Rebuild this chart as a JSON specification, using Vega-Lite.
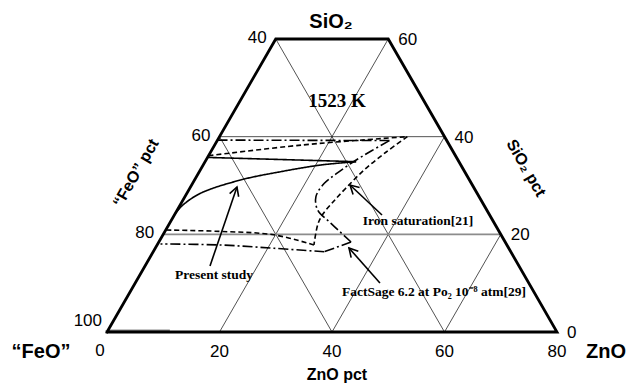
{
  "$schema": "https://vega.github.io/schema/vega-lite/v6.json",
  "autosize": {"type": "none"},
  "width": 450,
  "height": 293,
  "padding": {"left": 107, "top": 39, "right": 73, "bottom": 59},
  "background": "white",
  "config": {"view": {"stroke": null}},
  "data": {"values": [
    {"k": "frame", "g": "f", "i": 0, "ZnO": 0, "SiO2": 0},
    {"k": "frame", "g": "f", "i": 1, "ZnO": 80, "SiO2": 0},
    {"k": "frame", "g": "f", "i": 2, "ZnO": 20, "SiO2": 60},
    {"k": "frame", "g": "f", "i": 3, "ZnO": 0, "SiO2": 60},
    {"k": "frame", "g": "f", "i": 4, "ZnO": 0, "SiO2": 0},

    {"k": "grid", "g": "a", "i": 0, "ZnO": 0, "SiO2": 40},
    {"k": "grid", "g": "a", "i": 1, "ZnO": 40, "SiO2": 40},
    {"k": "grid", "g": "b", "i": 0, "ZnO": 20, "SiO2": 0},
    {"k": "grid", "g": "b", "i": 1, "ZnO": 20, "SiO2": 60},
    {"k": "grid", "g": "c", "i": 0, "ZnO": 40, "SiO2": 0},
    {"k": "grid", "g": "c", "i": 1, "ZnO": 40, "SiO2": 40},
    {"k": "grid", "g": "d", "i": 0, "ZnO": 60, "SiO2": 0},
    {"k": "grid", "g": "d", "i": 1, "ZnO": 60, "SiO2": 20},
    {"k": "grid", "g": "e", "i": 0, "ZnO": 0, "SiO2": 40},
    {"k": "grid", "g": "e", "i": 1, "ZnO": 40, "SiO2": 0},
    {"k": "grid", "g": "f", "i": 0, "ZnO": 0, "SiO2": 60},
    {"k": "grid", "g": "f", "i": 1, "ZnO": 60, "SiO2": 0},
    {"k": "grid2", "g": "h", "i": 0, "ZnO": 0, "SiO2": 20},
    {"k": "grid2", "g": "h", "i": 1, "ZnO": 60, "SiO2": 20},
    {"k": "grid2", "g": "z", "i": 0, "ZnO": 0, "SiO2": 0.35},
    {"k": "grid2", "g": "z", "i": 1, "ZnO": 11, "SiO2": 0.35},

    {"k": "curve", "s": "present", "g": "pA", "i": 0, "ZnO": 0, "SiO2": 24.2},
    {"k": "curve", "s": "present", "g": "pA", "i": 1, "ZnO": 0.44, "SiO2": 25.9},
    {"k": "curve", "s": "present", "g": "pA", "i": 2, "ZnO": 2.41, "SiO2": 28.4},
    {"k": "curve", "s": "present", "g": "pA", "i": 3, "ZnO": 8.19, "SiO2": 31.13},
    {"k": "curve", "s": "present", "g": "pA", "i": 4, "ZnO": 14.48, "SiO2": 32.83},
    {"k": "curve", "s": "present", "g": "pA", "i": 5, "ZnO": 20.94, "SiO2": 34.2},
    {"k": "curve", "s": "present", "g": "pA", "i": 6, "ZnO": 26.85, "SiO2": 34.88},
    {"k": "curve", "s": "present", "g": "pB", "i": 0, "ZnO": 26.85, "SiO2": 34.88},
    {"k": "curve", "s": "present", "g": "pB", "i": 1, "ZnO": 0, "SiO2": 35.75},

    {"k": "curve", "s": "iron", "g": "iA", "i": 0, "ZnO": 0, "SiO2": 36.1},
    {"k": "curve", "s": "iron", "g": "iA", "i": 1, "ZnO": 15.6, "SiO2": 38.3},
    {"k": "curve", "s": "iron", "g": "iA", "i": 2, "ZnO": 33.4, "SiO2": 40.0},
    {"k": "curve", "s": "iron", "g": "iB", "i": 0, "ZnO": 33.4, "SiO2": 40.0},
    {"k": "curve", "s": "iron", "g": "iB", "i": 1, "ZnO": 31.21, "SiO2": 36.86},
    {"k": "curve", "s": "iron", "g": "iB", "i": 2, "ZnO": 29.12, "SiO2": 33.18},
    {"k": "curve", "s": "iron", "g": "iB", "i": 3, "ZnO": 27.75, "SiO2": 29.49},
    {"k": "curve", "s": "iron", "g": "iB", "i": 4, "ZnO": 26.87, "SiO2": 26.62},
    {"k": "curve", "s": "iron", "g": "iB", "i": 5, "ZnO": 26.31, "SiO2": 24.16},
    {"k": "curve", "s": "iron", "g": "iB", "i": 6, "ZnO": 26.44, "SiO2": 22.12},
    {"k": "curve", "s": "iron", "g": "iB", "i": 7, "ZnO": 27.88, "SiO2": 17.82},
    {"k": "curve", "s": "iron", "g": "iC", "i": 0, "ZnO": 27.88, "SiO2": 17.82},
    {"k": "curve", "s": "iron", "g": "iC", "i": 1, "ZnO": 19.7, "SiO2": 19.9},
    {"k": "curve", "s": "iron", "g": "iC", "i": 2, "ZnO": 9.8, "SiO2": 20.6},
    {"k": "curve", "s": "iron", "g": "iC", "i": 3, "ZnO": 0, "SiO2": 20.89},

    {"k": "curve", "s": "fs", "g": "fA", "i": 0, "ZnO": 0, "SiO2": 39.3},
    {"k": "curve", "s": "fs", "g": "fA", "i": 1, "ZnO": 30.6, "SiO2": 39.2},
    {"k": "curve", "s": "fs", "g": "fB", "i": 0, "ZnO": 30.6, "SiO2": 39.2},
    {"k": "curve", "s": "fs", "g": "fB", "i": 1, "ZnO": 28.43, "SiO2": 37.07},
    {"k": "curve", "s": "fs", "g": "fB", "i": 2, "ZnO": 26.12, "SiO2": 34.55},
    {"k": "curve", "s": "fs", "g": "fB", "i": 3, "ZnO": 24.53, "SiO2": 32.36},
    {"k": "curve", "s": "fs", "g": "fB", "i": 4, "ZnO": 23.41, "SiO2": 30.45},
    {"k": "curve", "s": "fs", "g": "fB", "i": 5, "ZnO": 23.29, "SiO2": 27.71},
    {"k": "curve", "s": "fs", "g": "fB", "i": 6, "ZnO": 24.96, "SiO2": 24.98},
    {"k": "curve", "s": "fs", "g": "fB", "i": 7, "ZnO": 28.69, "SiO2": 22.26},
    {"k": "curve", "s": "fs", "g": "fB", "i": 8, "ZnO": 34.17, "SiO2": 18.43},
    {"k": "curve", "s": "fs", "g": "fC", "i": 0, "ZnO": 34.17, "SiO2": 18.43},
    {"k": "curve", "s": "fs", "g": "fC", "i": 1, "ZnO": 30.41, "SiO2": 16.44},
    {"k": "curve", "s": "fs", "g": "fD", "i": 0, "ZnO": 30.41, "SiO2": 16.44},
    {"k": "curve", "s": "fs", "g": "fD", "i": 1, "ZnO": 21.13, "SiO2": 17.14},
    {"k": "curve", "s": "fs", "g": "fD", "i": 2, "ZnO": 11.27, "SiO2": 17.82},
    {"k": "curve", "s": "fs", "g": "fD", "i": 3, "ZnO": 0.5, "SiO2": 18.02},

    {"k": "arrow", "g": "aI", "i": 0, "ZnO": 36.91, "SiO2": 23.96},
    {"k": "arrow", "g": "aI", "i": 1, "ZnO": 28.15, "SiO2": 30.1},
    {"k": "arrow", "g": "aF", "i": 0, "ZnO": 43.51, "SiO2": 10.03},
    {"k": "arrow", "g": "aF", "i": 1, "ZnO": 34.42, "SiO2": 17.2},
    {"k": "arrow", "g": "aP", "i": 0, "ZnO": 11.55, "SiO2": 13.52},
    {"k": "arrow", "g": "aP", "i": 1, "ZnO": 8.26, "SiO2": 29.69},
    {"k": "tip", "g": "aI", "ZnO": 28.15, "SiO2": 30.1},
    {"k": "tip", "g": "aF", "ZnO": 34.42, "SiO2": 17.2},
    {"k": "tip", "g": "aP", "ZnO": 8.26, "SiO2": 29.69},

    {"k": "tickB", "t": "20", "ZnO": 20, "SiO2": 0},
    {"k": "tickB", "t": "40", "ZnO": 40, "SiO2": 0},
    {"k": "tickB", "t": "60", "ZnO": 60, "SiO2": 0},
    {"k": "tickB", "t": "80", "ZnO": 80, "SiO2": 0},
    {"k": "tickB0", "t": "0", "ZnO": 0, "SiO2": 0},
    {"k": "tickL", "t": "80", "ZnO": 0, "SiO2": 20},
    {"k": "tickL", "t": "60", "ZnO": 0, "SiO2": 40},
    {"k": "tickL", "t": "40", "ZnO": 0, "SiO2": 60},
    {"k": "tickL100", "t": "100", "ZnO": 0, "SiO2": 0},
    {"k": "tickR", "t": "60", "ZnO": 20, "SiO2": 60},
    {"k": "tickR", "t": "40", "ZnO": 40, "SiO2": 40},
    {"k": "tickR", "t": "20", "ZnO": 60, "SiO2": 20},
    {"k": "tickR", "t": "0", "ZnO": 80, "SiO2": 0},

    {"k": "big", "t": "SiO₂", "ZnO": 8.08, "SiO2": 63.49},
    {"k": "big", "t": "“FeO”", "ZnO": -9.68, "SiO2": -4.1},
    {"k": "big", "t": "ZnO", "ZnO": 90.76, "SiO2": -4.1},
    {"k": "small", "t": "ZnO pct", "ZnO": 45.29, "SiO2": -8.81},
    {"k": "rotL", "t": "“FeO” pct", "ZnO": -11.12, "SiO2": 32.56},
    {"k": "rotR", "t": "SiO₂ pct", "ZnO": 57.7, "SiO2": 33.59},
    {"k": "serifBig", "t": "1523 K", "ZnO": 17.24, "SiO2": 47.31},
    {"k": "note", "t": "Iron saturation[21]", "ZnO": 43.92, "SiO2": 22.73},
    {"k": "note", "t": "Present study", "ZnO": 13.18, "SiO2": 11.67},
    {"k": "note", "t": "FactSage 6.2 at Po₂ 10⁻⁸ atm[29]", "ZnO": 54.03, "SiO2": 8.19}
  ]},
  "transform": [{"calculate": "datum.ZnO + datum.SiO2 / 2", "as": "X"}],
  "encoding": {
    "x": {"field": "X", "type": "quantitative", "scale": {"domain": [0, 80], "nice": false, "zero": false}, "axis": null},
    "y": {"field": "SiO2", "type": "quantitative", "scale": {"domain": [0, 60], "nice": false, "zero": false}, "axis": null}
  },
  "layer": [
    {
      "transform": [{"filter": "datum.k === 'grid'"}],
      "mark": {"type": "line", "stroke": "#1a1a1a", "strokeWidth": 0.75},
      "encoding": {"detail": {"field": "g"}, "order": {"field": "i", "type": "quantitative"}}
    },
    {
      "transform": [{"filter": "datum.k === 'grid2'"}],
      "mark": {"type": "line", "stroke": "#8c8c8c", "strokeWidth": 1.6},
      "encoding": {"detail": {"field": "g"}, "order": {"field": "i", "type": "quantitative"}}
    },
    {
      "transform": [{"filter": "datum.k === 'curve'"}],
      "mark": {"type": "line", "stroke": "black", "strokeWidth": 1.6, "interpolate": "catmull-rom"},
      "encoding": {
        "detail": {"field": "g"},
        "order": {"field": "i", "type": "quantitative"},
        "strokeDash": {"field": "s", "type": "nominal", "scale": {"domain": ["present", "iron", "fs"], "range": [[1, 0], [5, 3], [10, 3, 2, 3]]}, "legend": null}
      }
    },
    {
      "transform": [{"filter": "datum.k === 'frame'"}],
      "mark": {"type": "line", "stroke": "black", "strokeWidth": 2.8, "strokeJoin": "miter", "strokeCap": "square"},
      "encoding": {"order": {"field": "i", "type": "quantitative"}}
    },
    {
      "transform": [{"filter": "datum.k === 'arrow'"}],
      "mark": {"type": "line", "stroke": "black", "strokeWidth": 1.6},
      "encoding": {"detail": {"field": "g"}, "order": {"field": "i", "type": "quantitative"}}
    },
    {
      "transform": [{"filter": "datum.k === 'tip' && datum.g === 'aI'"}],
      "mark": {"type": "point", "shape": "M -0.55 1 L 0 0 L 0.55 1", "filled": false, "stroke": "black", "strokeWidth": 1.6, "opacity": 1, "size": 300, "angle": 313}
    },
    {
      "transform": [{"filter": "datum.k === 'tip' && datum.g === 'aF'"}],
      "mark": {"type": "point", "shape": "M -0.55 1 L 0 0 L 0.55 1", "filled": false, "stroke": "black", "strokeWidth": 1.6, "opacity": 1, "size": 300, "angle": 318.5}
    },
    {
      "transform": [{"filter": "datum.k === 'tip' && datum.g === 'aP'"}],
      "mark": {"type": "point", "shape": "M -0.55 1 L 0 0 L 0.55 1", "filled": false, "stroke": "black", "strokeWidth": 1.6, "opacity": 1, "size": 300, "angle": 19}
    },
    {
      "transform": [{"filter": "datum.k === 'tickB'"}],
      "mark": {"type": "text", "font": "Liberation Sans", "fontSize": 17, "align": "center", "baseline": "middle", "dy": 20, "color": "black"},
      "encoding": {"text": {"field": "t"}}
    },
    {
      "transform": [{"filter": "datum.k === 'tickB0'"}],
      "mark": {"type": "text", "font": "Liberation Sans", "fontSize": 17, "align": "center", "baseline": "middle", "dx": -7, "dy": 19, "color": "black"},
      "encoding": {"text": {"field": "t"}}
    },
    {
      "transform": [{"filter": "datum.k === 'tickL'"}],
      "mark": {"type": "text", "font": "Liberation Sans", "fontSize": 17, "align": "right", "baseline": "middle", "dx": -9, "dy": -1, "color": "black"},
      "encoding": {"text": {"field": "t"}}
    },
    {
      "transform": [{"filter": "datum.k === 'tickL100'"}],
      "mark": {"type": "text", "font": "Liberation Sans", "fontSize": 17, "align": "right", "baseline": "middle", "dx": -5, "dy": -11, "color": "black"},
      "encoding": {"text": {"field": "t"}}
    },
    {
      "transform": [{"filter": "datum.k === 'tickR'"}],
      "mark": {"type": "text", "font": "Liberation Sans", "fontSize": 17, "align": "left", "baseline": "middle", "dx": 10, "dy": 1, "color": "black"},
      "encoding": {"text": {"field": "t"}}
    },
    {
      "transform": [{"filter": "datum.k === 'big'"}],
      "mark": {"type": "text", "font": "Liberation Sans", "fontSize": 20, "fontWeight": "bold", "align": "center", "baseline": "middle", "color": "black"},
      "encoding": {"text": {"field": "t"}}
    },
    {
      "transform": [{"filter": "datum.k === 'small'"}],
      "mark": {"type": "text", "font": "Liberation Sans", "fontSize": 16, "fontWeight": "bold", "align": "center", "baseline": "middle", "color": "black"},
      "encoding": {"text": {"field": "t"}}
    },
    {
      "transform": [{"filter": "datum.k === 'rotL'"}],
      "mark": {"type": "text", "font": "Liberation Sans", "fontSize": 16, "fontWeight": "bold", "align": "center", "baseline": "middle", "angle": 300, "color": "black"},
      "encoding": {"text": {"field": "t"}}
    },
    {
      "transform": [{"filter": "datum.k === 'rotR'"}],
      "mark": {"type": "text", "font": "Liberation Sans", "fontSize": 16, "fontWeight": "bold", "align": "center", "baseline": "middle", "angle": 60, "color": "black"},
      "encoding": {"text": {"field": "t"}}
    },
    {
      "transform": [{"filter": "datum.k === 'serifBig'"}],
      "mark": {"type": "text", "font": "Liberation Serif", "fontSize": 19, "fontWeight": "bold", "align": "center", "baseline": "middle", "color": "black"},
      "encoding": {"text": {"field": "t"}}
    },
    {
      "transform": [{"filter": "datum.k === 'note'"}],
      "mark": {"type": "text", "font": "Liberation Serif", "fontSize": 13.5, "fontWeight": "bold", "align": "center", "baseline": "middle", "color": "black"},
      "encoding": {"text": {"field": "t"}}
    }
  ]
}
